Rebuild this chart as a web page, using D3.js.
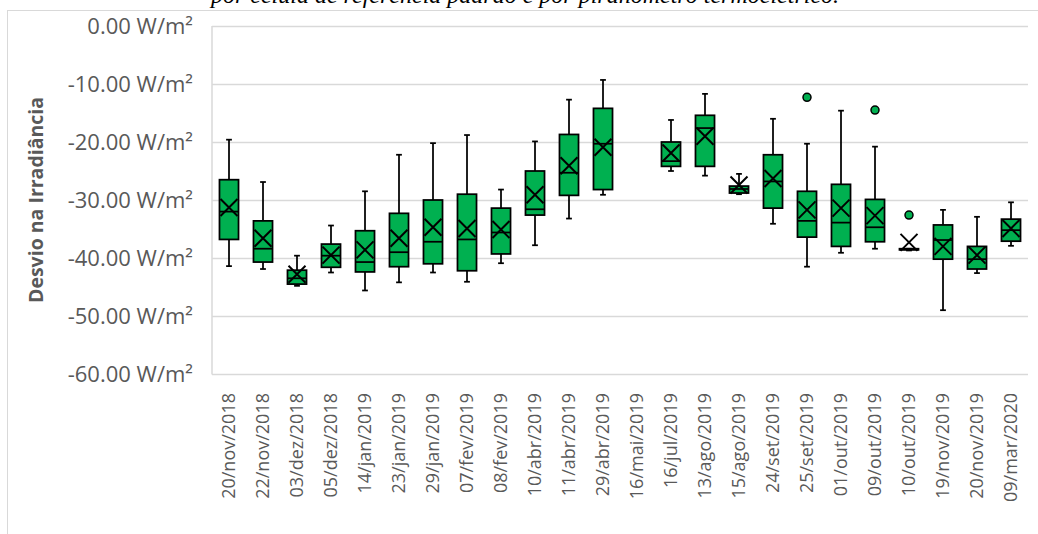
<!DOCTYPE html>
<html>
<head>
<meta charset="utf-8">
<script src="https://cdn.jsdelivr.net/npm/d3@7"></script>
<style>
  html, body { margin: 0; padding: 0; background: #ffffff; }
  svg { display: block; }
</style>
</head>
<body>
<svg id="chart" width="1038" height="534"></svg>
<script>
// ---- Data ----
const categories = ["20/nov/2018","22/nov/2018","03/dez/2018","05/dez/2018","14/jan/2019","23/jan/2019","29/jan/2019","07/fev/2019","08/fev/2019","10/abr/2019","11/abr/2019","29/abr/2019","16/mai/2019","16/jul/2019","13/ago/2019","15/ago/2019","24/set/2019","25/set/2019","01/out/2019","09/out/2019","10/out/2019","19/nov/2019","20/nov/2019","09/mar/2020"];
const whiskerMax = [-19.6,-26.9,-39.6,-34.4,-28.5,-22.2,-20.2,-18.8,-28.2,-19.9,-12.7,-9.3,null,-16.2,-11.7,-25.5,-16.0,-20.3,-14.6,-20.8,-38.4,-31.7,-32.9,-30.4];
const q3s        = [-26.5,-33.6,-42.1,-37.6,-35.3,-32.3,-30.0,-29.0,-31.4,-25.0,-18.7,-14.2,null,-20.0,-15.4,-27.6,-22.2,-28.5,-27.3,-29.9,-38.4,-34.3,-38.0,-33.3];
const medians    = [-32.0,-38.4,-43.5,-39.6,-40.7,-39.0,-37.2,-36.8,-35.6,-31.6,-25.3,-20.3,null,-23.3,-17.6,-28.1,-26.8,-33.6,-33.9,-34.7,-38.5,-36.9,-40.2,-35.2];
const q1s        = [-36.8,-40.7,-44.5,-41.6,-42.4,-41.5,-41.0,-42.2,-39.3,-32.6,-29.2,-28.2,null,-24.2,-24.2,-28.8,-31.4,-36.4,-38.0,-37.2,-38.6,-40.2,-41.9,-37.1];
const whiskerMin = [-41.4,-41.9,-44.8,-42.5,-45.6,-44.2,-42.5,-44.1,-40.9,-37.8,-33.2,-29.1,null,-25.0,-25.8,-29.0,-34.1,-41.5,-39.1,-38.4,-38.7,-49.0,-42.6,-37.9];
const means      = [-31.3,-36.6,-42.8,-39.5,-38.6,-36.6,-34.7,-34.9,-35.1,-29.1,-24.1,-20.9,null,-21.9,-19.0,-27.4,-26.3,-31.7,-31.4,-32.7,-37.3,-38.0,-39.5,-34.9];
const outlierCats = ["25/set/2019","09/out/2019","10/out/2019"];
const outlierVals = [-12.3,-14.5,-32.6];
const yTicks = [0,-10,-20,-30,-40,-50,-60];
const title = "por célula de referência padrão e por piranômetro termoelétrico.";
const yAxisTitle = "Desvio na Irradiância";

// ---- Layout ----
const svg = d3.select("#chart");
const plot = { left: 212, right: 1028, top: 26, bottom: 374 };
const x = d3.scaleBand().domain(categories).range([plot.left, plot.right]).padding(0);
const y = d3.scaleLinear().domain([-60, 0]).range([plot.bottom, plot.top]);
const green = "#00b050";
const gridColor = "#d9d9d9";
const textColor = "#595959";

// chart area border
svg.append("rect")
  .attr("x", 7.5).attr("y", 10.5)
  .attr("width", 1100).attr("height", 600)
  .attr("fill", "none").attr("stroke", gridColor).attr("stroke-width", 1);

// Title (caption cut off at the top, as in the reference)
svg.append("text")
  .attr("x", 525).attr("y", 3)
  .attr("text-anchor", "middle")
  .attr("font-family", "'Liberation Serif', 'DejaVu Serif', serif")
  .attr("font-style", "italic")
  .attr("font-size", 24)
  .attr("fill", "#000")
  .text(title);

// gridlines
svg.append("g").selectAll("line").data(yTicks).join("line")
  .attr("x1", plot.left).attr("x2", plot.right)
  .attr("y1", d => Math.round(y(d)) + 0.5).attr("y2", d => Math.round(y(d)) + 0.5)
  .attr("stroke", gridColor).attr("stroke-width", 1.5);
svg.append("line")
  .attr("x1", plot.left).attr("x2", plot.left)
  .attr("y1", plot.top).attr("y2", plot.bottom + 0.5)
  .attr("stroke", gridColor).attr("stroke-width", 1.5);

// y axis labels
const fmt = d3.format(".2f");
const yAxis = d3.axisLeft(y).tickValues(yTicks).tickSize(0).tickPadding(0)
  .tickFormat(d => fmt(d).replace("\u2212", "-") + " W/m²");
const gy = svg.append("g").attr("transform", `translate(193,0)`).call(yAxis);
gy.select(".domain").remove();
gy.selectAll("text")
  .attr("font-family", "'Open Sans', sans-serif")
  .attr("font-size", 22)
  .attr("fill", textColor)
  .attr("dy", "0.32em");

// y axis title
svg.append("text")
  .attr("transform", `translate(43,${(plot.top + plot.bottom) / 2}) rotate(-90)`)
  .attr("text-anchor", "middle")
  .attr("font-family", "'Open Sans', sans-serif")
  .attr("font-weight", "bold")
  .attr("font-size", 19.5)
  .attr("fill", textColor)
  .text(yAxisTitle);

// x axis labels
const xAxis = d3.axisBottom(x).tickSize(0).tickPadding(0);
const gx = svg.append("g").attr("transform", `translate(0,${plot.bottom})`).call(xAxis);
gx.select(".domain").remove();
gx.selectAll("text")
  .attr("font-family", "'Open Sans', sans-serif")
  .attr("font-size", 18)
  .attr("fill", textColor)
  .attr("text-anchor", "end")
  .attr("dy", "0.35em")
  .attr("transform", "translate(0,19) rotate(-90)")
  .attr("x", 0).attr("y", 0);

// ---- Boxes ----
const rows = categories.map((c, i) => ({
  cat: c, lo: whiskerMin[i], q1: q1s[i], med: medians[i], q3: q3s[i], hi: whiskerMax[i], mean: means[i]
})).filter(d => d.med !== null);

const bw = x.bandwidth() * 0.56;
const capW = x.bandwidth() * 0.17;
const cx = d => x(d.cat) + x.bandwidth() / 2;
const g = svg.append("g");
const sw = 1.75;

// whiskers
g.selectAll(".wh").data(rows).join("line").attr("class", "wh")
  .attr("x1", cx).attr("x2", cx)
  .attr("y1", d => y(d.hi)).attr("y2", d => y(d.q3))
  .attr("stroke", "#000").attr("stroke-width", sw);
g.selectAll(".wl").data(rows).join("line").attr("class", "wl")
  .attr("x1", cx).attr("x2", cx)
  .attr("y1", d => y(d.q1)).attr("y2", d => y(d.lo))
  .attr("stroke", "#000").attr("stroke-width", sw);
g.selectAll(".ch").data(rows).join("line").attr("class", "ch")
  .attr("x1", d => cx(d) - capW / 2).attr("x2", d => cx(d) + capW / 2)
  .attr("y1", d => y(d.hi)).attr("y2", d => y(d.hi))
  .attr("stroke", "#000").attr("stroke-width", sw);
g.selectAll(".cl").data(rows).join("line").attr("class", "cl")
  .attr("x1", d => cx(d) - capW / 2).attr("x2", d => cx(d) + capW / 2)
  .attr("y1", d => y(d.lo)).attr("y2", d => y(d.lo))
  .attr("stroke", "#000").attr("stroke-width", sw);

// boxes
g.selectAll(".box").data(rows).join("rect").attr("class", "box")
  .attr("x", d => cx(d) - bw / 2).attr("width", bw)
  .attr("y", d => y(d.q3)).attr("height", d => Math.max(0.5, y(d.q1) - y(d.q3)))
  .attr("fill", green).attr("stroke", "#000").attr("stroke-width", sw);

// medians
g.selectAll(".med").data(rows).join("line").attr("class", "med")
  .attr("x1", d => cx(d) - bw / 2).attr("x2", d => cx(d) + bw / 2)
  .attr("y1", d => y(d.med)).attr("y2", d => y(d.med))
  .attr("stroke", "#000").attr("stroke-width", sw);

// mean markers (X)
const m = 8.5;
g.selectAll(".mean").data(rows).join("path").attr("class", "mean")
  .attr("d", d => {
    const X = cx(d), Y = y(d.mean);
    return `M${X - m},${Y - m}L${X + m},${Y + m}M${X - m},${Y + m}L${X + m},${Y - m}`;
  })
  .attr("fill", "none").attr("stroke", "#000").attr("stroke-width", 2);

// outliers
const outliers = outlierCats.map((c, i) => ({ cat: c, v: outlierVals[i] }));
g.selectAll(".out").data(outliers).join("circle").attr("class", "out")
  .attr("cx", cx).attr("cy", d => y(d.v)).attr("r", 4)
  .attr("fill", green).attr("stroke", "#000").attr("stroke-width", 1.5);
</script>
</body>
</html>
